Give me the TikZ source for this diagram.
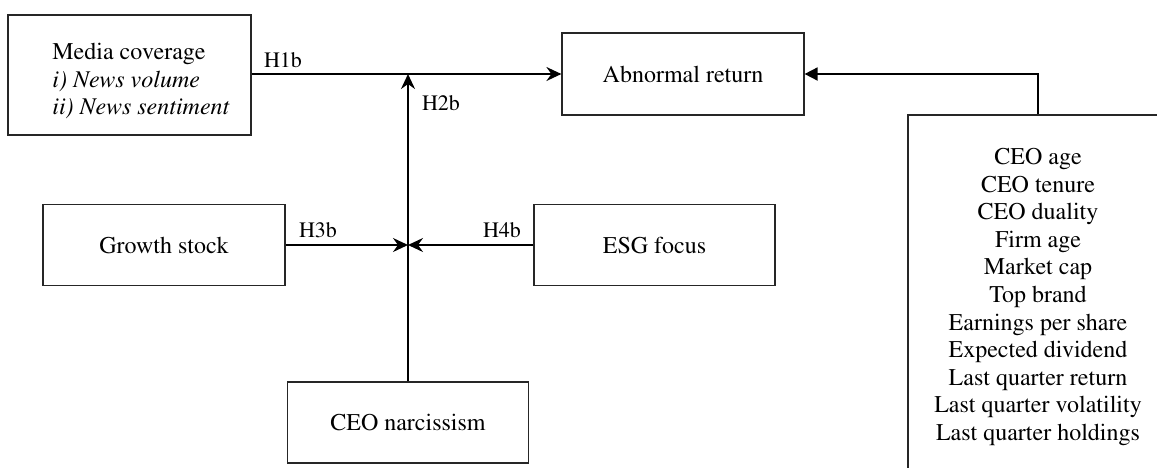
\documentclass[tikz,border=0pt]{standalone}
\usepackage[T1]{fontenc}
\usepackage{mathptmx}
\usetikzlibrary{arrows.meta}
\begin{document}
\begin{tikzpicture}[x=0.5pt,y=-0.5pt,
  every node/.style={font=\rmfamily\fontsize{12}{13.8}\selectfont},
  boxnode/.style={draw=black!85, line width=0.6pt, rectangle, inner sep=0pt, align=center},
  lbl/.style={font=\rmfamily\fontsize{11}{13}\selectfont, inner sep=0pt},
  conn/.style={line width=0.9pt, -{Stealth[length=7.5pt,width=7pt,inset=2.5pt]}},
  conntri/.style={line width=0.9pt, -{Triangle[length=6.5pt,width=6.5pt]}}]
\useasboundingbox (0,0) rectangle (1157,467);
\clip (0,0) rectangle (1157,467);
% boxes
\node[boxnode, minimum width=121.5pt, minimum height=60pt] (media) at (129.5,75) {};
\node[anchor=west, align=left, inner sep=0pt] (mediatext) at (52,81)
  {Media coverage\\ \textit{i) News volume}\\ \textit{ii) News sentiment}};
\node[boxnode, minimum width=121pt, minimum height=41pt] (abn) at (683,74) {Abnormal return};
\node[boxnode, minimum width=121pt, minimum height=40.5pt] (growth) at (164,245) {Growth stock};
\node[boxnode, minimum width=120.5pt, minimum height=40.5pt] (esg) at (654.5,245) {ESG focus};
\node[boxnode, minimum width=120.5pt, minimum height=40.5pt] (narc) at (408,422.5) {CEO narcissism};
\node[boxnode, minimum width=130pt, minimum height=182pt] (ctrl) at (1038,297)
  {CEO age\\CEO tenure\\CEO duality\\Firm age\\Market cap\\Top brand\\Earnings per share\\Expected dividend\\Last quarter return\\Last quarter volatility\\Last quarter holdings};
% junctions
\coordinate (j1) at (408,74);
\coordinate (j2) at (408,245);
% connectors
\draw[conn] (media.east |- abn.west) -- (abn.west);
\draw[conn] (narc.north) -- (j1);
\draw[conn] (growth.east) -- (j2);
\draw[conn] (esg.west) -- (j2);
\draw[conntri] (ctrl.north) |- (abn.east);
% labels
\node[lbl] (h1b) at (283,60) {H1b};
\node[lbl] (h2b) at (441,103) {H2b};
\node[lbl] (h3b) at (318,230) {H3b};
\node[lbl] (h4b) at (502,230) {H4b};
\end{tikzpicture}
\end{document}
